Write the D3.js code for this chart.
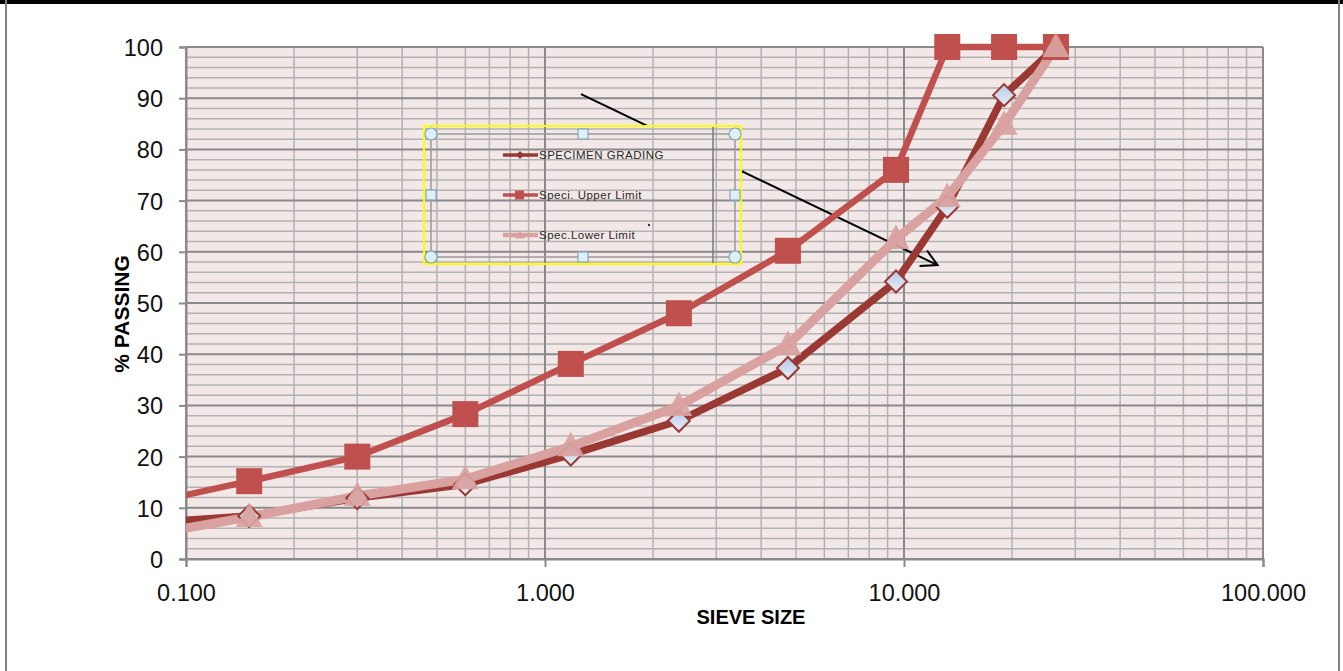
<!DOCTYPE html>
<html>
<head>
<meta charset="utf-8">
<script src="https://cdn.jsdelivr.net/npm/d3@7"></script>
<style>
  html, body { margin: 0; padding: 0; background: #ffffff; }
  svg { display: block; }
</style>
</head>
<body>
<svg id="chart" width="1343" height="671"></svg>
<script>
// Sieve sizes (mm) and percent passing for each curve
const sieveSizes   = [0.075, 0.15, 0.3, 0.6, 1.18, 2.36, 4.75, 9.5, 13.2, 19, 26.5];
const specimen     = [7.0, 8.4, 11.9, 14.6, 20.4, 27.0, 37.3, 54.2, 68.8, 90.6, 100];
const upperLimit   = [10.6, 15.2, 20.0, 28.3, 38.1, 48.0, 60.2, 76.0, 100, 100, 100];
const lowerLimit   = [4.5, 8.2, 12.3, 15.6, 22.0, 29.9, 41.8, 62.5, 70.7, 84.8, 100];

const yTicks = [0, 10, 20, 30, 40, 50, 60, 70, 80, 90, 100];
const xTicks = [0.1, 1, 10, 100];
const seriesNames = ["SPECIMEN GRADING", "Speci. Upper Limit", "Spec.Lower Limit"];

const svg = d3.select("#chart");
const W = 1343, H = 671;
const plot = { left: 186, right: 1263, top: 47, bottom: 559 };

const x = d3.scaleLog().domain([0.1, 100]).range([plot.left, plot.right]);
const y = d3.scaleLinear().domain([0, 100]).range([plot.bottom, plot.top]);

const colSpecimen = "#9a3934";
const colUpper = "#c0504d";
const colLower = "#d9a2a0";
const plotBg = "#f2e8e7";
const gridMinor = "#b3b3b3";
const gridMajor = "#8a8a8a";

const defs = svg.append("defs");
defs.append("clipPath").attr("id", "plotClip")
  .append("rect").attr("x", plot.left).attr("y", 0)
  .attr("width", plot.right - plot.left).attr("height", H);

const grad = defs.append("linearGradient").attr("id", "diamondFill")
  .attr("x1", 0).attr("y1", 0).attr("x2", 0).attr("y2", 1);
grad.append("stop").attr("offset", "0%").attr("stop-color", "#b3c8e6");
grad.append("stop").attr("offset", "100%").attr("stop-color", "#e8eff8");

// Outer frame
svg.append("rect").attr("x", 0).attr("y", 0).attr("width", W).attr("height", 4).attr("fill", "#000");
svg.append("line").attr("x1", 6).attr("x2", 6).attr("y1", 0).attr("y2", H)
  .attr("stroke", "#808080").attr("stroke-width", 2);
svg.append("line").attr("x1", 1339).attr("x2", 1339).attr("y1", 0).attr("y2", H)
  .attr("stroke", "#808080").attr("stroke-width", 2);

// Plot background
svg.append("rect").attr("x", plot.left).attr("y", plot.top)
  .attr("width", plot.right - plot.left).attr("height", plot.bottom - plot.top)
  .attr("fill", plotBg);

// Gridlines
const gridG = svg.append("g");
const hMinor = d3.range(0, 101, 2).filter(v => v % 10 !== 0);
gridG.selectAll(".hmin").data(hMinor).join("line")
  .attr("x1", plot.left).attr("x2", plot.right)
  .attr("y1", d => y(d)).attr("y2", d => y(d))
  .attr("stroke", gridMinor).attr("stroke-width", 1.5);
const vMinor = [];
[0.1, 1, 10].forEach(dec => { for (let k = 2; k <= 9; k++) vMinor.push(dec * k); });
gridG.selectAll(".vmin").data(vMinor).join("line")
  .attr("x1", d => x(d)).attr("x2", d => x(d))
  .attr("y1", plot.top).attr("y2", plot.bottom)
  .attr("stroke", gridMinor).attr("stroke-width", 1.5);
gridG.selectAll(".hmaj").data(yTicks).join("line")
  .attr("x1", plot.left).attr("x2", plot.right)
  .attr("y1", d => y(d)).attr("y2", d => y(d))
  .attr("stroke", gridMajor).attr("stroke-width", 2);
gridG.selectAll(".vmaj").data(xTicks).join("line")
  .attr("x1", d => x(d)).attr("x2", d => x(d))
  .attr("y1", plot.top).attr("y2", plot.bottom)
  .attr("stroke", gridMajor).attr("stroke-width", 2);

// Axes
const font = "'Liberation Sans', Arial, sans-serif";
const yAxis = d3.axisLeft(y).tickValues(yTicks).tickSize(7).tickPadding(16).tickFormat(d3.format("d"));
const yg = svg.append("g").attr("transform", `translate(${plot.left},0)`).call(yAxis);
const xAxis = d3.axisBottom(x).tickValues(xTicks).tickSize(8).tickPadding(17).tickFormat(d3.format(".3f"));
const xg = svg.append("g").attr("transform", `translate(0,${plot.bottom})`).call(xAxis);
[yg, xg].forEach(g => {
  g.select(".domain").attr("stroke", gridMajor).attr("stroke-width", 2);
  g.selectAll(".tick line").attr("stroke", gridMajor).attr("stroke-width", 2);
  g.selectAll(".tick text").attr("fill", "#111").style("font-family", font).style("font-size", "23.5px");
});
yg.selectAll(".tick text").attr("dy", "0.36em");

// Axis titles
svg.append("text").attr("transform", `translate(129,314) rotate(-90)`)
  .attr("text-anchor", "middle").style("font-family", font).style("font-weight", "bold")
  .style("font-size", "21px").attr("fill", "#000").text("% PASSING");
svg.append("text").attr("x", 751).attr("y", 624)
  .attr("text-anchor", "middle").style("font-family", font).style("font-weight", "bold")
  .style("font-size", "20px").attr("fill", "#000").text("SIEVE  SIZE");

// Legend box geometry
const leg = { x: 424, y: 126, w: 317, h: 138 };

// Arrow annotation (hidden where the legend sits over it)
const mask = defs.append("mask").attr("id", "legendMask");
mask.append("rect").attr("x", 0).attr("y", 0).attr("width", W).attr("height", H).attr("fill", "#fff");
mask.append("rect").attr("x", leg.x).attr("y", leg.y).attr("width", leg.w).attr("height", leg.h).attr("fill", "#000");
const arrowFrom = [1.26, 90.8], arrowTo = [12.4, 57.4];
const ax1 = x(arrowFrom[0]), ay1 = y(arrowFrom[1]), ax2 = x(arrowTo[0]), ay2 = y(arrowTo[1]);
const ang = Math.atan2(ay2 - ay1, ax2 - ax1);
const headLen = 18, headAng = 0.5;
const arrowG = svg.append("g").attr("mask", "url(#legendMask)");
arrowG.append("line").attr("x1", ax1).attr("y1", ay1).attr("x2", ax2).attr("y2", ay2)
  .attr("stroke", "#000").attr("stroke-width", 2);
arrowG.append("path")
  .attr("d", `M${ax2 - headLen * Math.cos(ang - headAng)},${ay2 - headLen * Math.sin(ang - headAng)}L${ax2},${ay2}L${ax2 - headLen * Math.cos(ang + headAng)},${ay2 - headLen * Math.sin(ang + headAng)}`)
  .attr("fill", "none").attr("stroke", "#000").attr("stroke-width", 2);

// Series
const rows = sieveSizes.map((s, i) => ({ s, spec: specimen[i], up: upperLimit[i], low: lowerLimit[i] }));
const line = key => d3.line().x(d => x(d.s)).y(d => y(d[key]));
const linesG = svg.append("g").attr("clip-path", "url(#plotClip)");
linesG.append("path").datum(rows).attr("d", line("spec")).attr("fill", "none")
  .attr("stroke", colSpecimen).attr("stroke-width", 7.5).attr("stroke-linejoin", "round");
linesG.append("path").datum(rows).attr("d", line("up")).attr("fill", "none")
  .attr("stroke", colUpper).attr("stroke-width", 6.5).attr("stroke-linejoin", "round");
linesG.append("path").datum(rows).attr("d", line("low")).attr("fill", "none")
  .attr("stroke", colLower).attr("stroke-width", 9).attr("stroke-linejoin", "round");

const shown = rows.filter(d => d.s >= 0.1);
const markG = svg.append("g");
markG.selectAll(".dia").data(shown).join("path")
  .attr("transform", d => `translate(${x(d.s)},${y(d.spec)})`)
  .attr("d", "M0,-11L11,0L0,11L-11,0Z")
  .attr("fill", "url(#diamondFill)").attr("stroke", colSpecimen).attr("stroke-width", 2);
markG.selectAll(".sq").data(shown).join("rect")
  .attr("x", d => x(d.s) - 13).attr("y", d => y(d.up) - 13)
  .attr("width", 26).attr("height", 26).attr("fill", colUpper);
markG.selectAll(".tri").data(shown).join("path")
  .attr("transform", d => `translate(${x(d.s)},${y(d.low)})`)
  .attr("d", "M0,-14.5L13.5,10L-13.5,10Z")
  .attr("fill", colLower).attr("opacity", 0.92);

// Legend (transparent, with selection frame and handles)
const lg = svg.append("g");
lg.append("rect").attr("x", leg.x).attr("y", leg.y).attr("width", leg.w).attr("height", leg.h)
  .attr("fill", "none").attr("stroke", "#ffff00").attr("stroke-width", 2);
const fx1 = 431, fx2 = 735, fy1 = 134, fy2 = 257;
lg.append("rect").attr("x", fx1).attr("y", fy1).attr("width", fx2 - fx1).attr("height", fy2 - fy1)
  .attr("fill", "none").attr("stroke", "#9a9a9a").attr("stroke-width", 1.5);
lg.append("line").attr("x1", 713).attr("x2", 713).attr("y1", leg.y + 1).attr("y2", leg.y + leg.h - 1)
  .attr("stroke", "#7a7a7a").attr("stroke-width", 1.5);

const legY = [155, 195, 235];
const legCols = [colSpecimen, colUpper, colLower];
legY.forEach((ly, i) => {
  lg.append("line").attr("x1", 503).attr("x2", 538).attr("y1", ly).attr("y2", ly)
    .attr("stroke", legCols[i]).attr("stroke-width", i === 2 ? 4.5 : 3.5);
  if (i === 0) lg.append("path").attr("transform", `translate(520,${ly})`).attr("d", "M0,-4L4,0L0,4L-4,0Z").attr("fill", legCols[i]);
  if (i === 1) lg.append("rect").attr("x", 515).attr("y", ly - 4.5).attr("width", 9).attr("height", 9).attr("fill", legCols[i]);
  if (i === 2) lg.append("path").attr("transform", `translate(520,${ly})`).attr("d", "M0,-5L5,3.5L-5,3.5Z").attr("fill", legCols[i]);
  lg.append("text").attr("x", 539).attr("y", ly + 4)
    .style("font-family", font).style("font-size", "11.5px").style("letter-spacing", "0.5px")
    .attr("fill", "#2a2a2a").text(seriesNames[i]);
});
lg.append("circle").attr("cx", 649).attr("cy", 225).attr("r", 1.2).attr("fill", "#333");

// Selection handles
const handleFill = "#dcf0f8", handleStroke = "#8aa4b8";
[[fx1, fy1], [fx2, fy1], [fx1, fy2], [fx2, fy2]].forEach(([hx, hy]) => {
  lg.append("circle").attr("cx", hx).attr("cy", hy).attr("r", 6)
    .attr("fill", handleFill).attr("stroke", handleStroke).attr("stroke-width", 1.2);
});
[[583, fy1], [583, fy2], [fx1, 195], [fx2, 195]].forEach(([hx, hy]) => {
  lg.append("rect").attr("x", hx - 5).attr("y", hy - 5).attr("width", 10).attr("height", 10)
    .attr("fill", handleFill).attr("stroke", handleStroke).attr("stroke-width", 1.2);
});
</script>
</body>
</html>
